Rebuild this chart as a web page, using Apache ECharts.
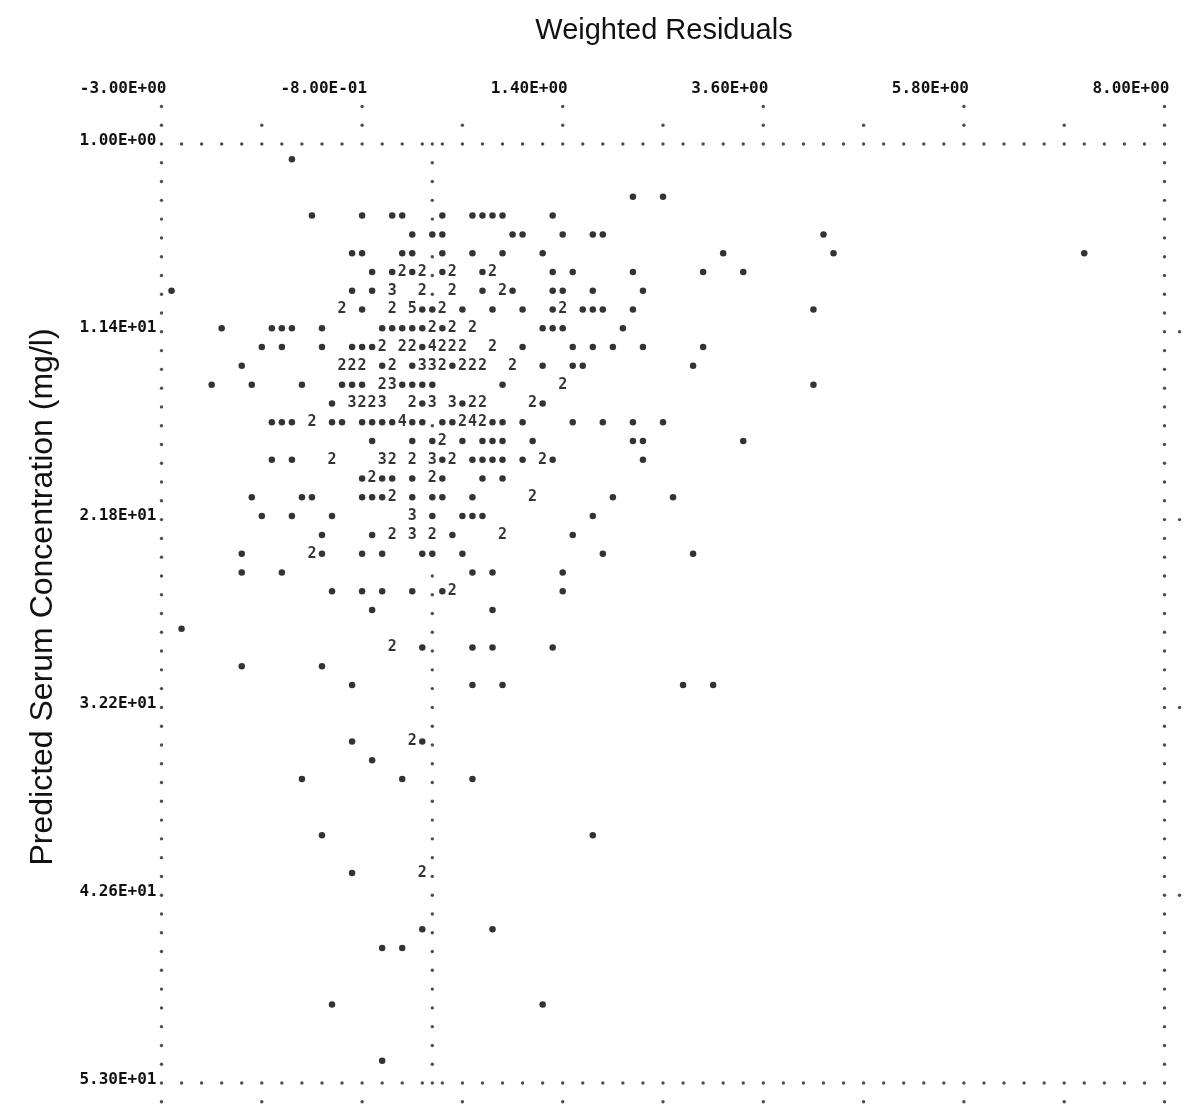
<!DOCTYPE html>
<html>
<head>
<meta charset="utf-8">
<script src="https://cdn.jsdelivr.net/npm/echarts@6/dist/echarts.min.js"></script>
<style>
  html, body { margin: 0; padding: 0; background: #fff; }
  #chart { width: 1185px; height: 1111px; }
</style>
</head>
<body>
<div id="chart"></div>
<script>
// Line-printer residual plot: 100 print columns across, 50 print lines down
const xMin = -3, xMax = 8, xStep = 0.11;
const yMin = 1, yMax = 53, yStep = 1.04;
const xTicks = [-3, -0.8, 1.4, 3.6, 5.8, 8];
const yTicks = [1, 11.4, 21.8, 32.2, 42.6, 53];

// single observations: [weighted residual, predicted serum concentration]
const singles = [
  [-1.57, 2.04],
  [2.17, 4.12], [2.50, 4.12],
  [-1.35, 5.16], [-0.80, 5.16], [-0.47, 5.16], [-0.36, 5.16], [0.08, 5.16], [0.41, 5.16], [0.52, 5.16], [0.63, 5.16], [0.74, 5.16], [1.29, 5.16],
  [-0.25, 6.20], [-0.03, 6.20], [0.08, 6.20], [0.85, 6.20], [0.96, 6.20], [1.40, 6.20], [1.73, 6.20], [1.84, 6.20], [4.26, 6.20],
  [-0.91, 7.24], [-0.80, 7.24], [-0.36, 7.24], [-0.25, 7.24], [0.08, 7.24], [0.41, 7.24], [0.74, 7.24], [1.18, 7.24], [3.16, 7.24], [4.37, 7.24], [7.12, 7.24],
  [-0.69, 8.28], [-0.47, 8.28], [-0.25, 8.28], [0.08, 8.28], [0.52, 8.28], [1.29, 8.28], [1.51, 8.28], [2.17, 8.28], [2.94, 8.28], [3.38, 8.28],
  [-2.89, 9.32], [-0.91, 9.32], [-0.69, 9.32], [0.52, 9.32], [0.85, 9.32], [1.29, 9.32], [1.40, 9.32], [1.73, 9.32], [2.28, 9.32],
  [-0.80, 10.36], [-0.14, 10.36], [-0.03, 10.36], [0.30, 10.36], [0.63, 10.36], [0.96, 10.36], [1.29, 10.36], [1.62, 10.36], [1.73, 10.36], [1.84, 10.36], [2.17, 10.36], [4.15, 10.36],
  [-2.34, 11.40], [-1.79, 11.40], [-1.68, 11.40], [-1.57, 11.40], [-1.24, 11.40], [-0.58, 11.40], [-0.47, 11.40], [-0.36, 11.40], [-0.25, 11.40], [-0.14, 11.40], [0.08, 11.40], [1.18, 11.40], [1.29, 11.40], [1.40, 11.40], [2.06, 11.40],
  [-1.90, 12.44], [-1.68, 12.44], [-1.24, 12.44], [-0.91, 12.44], [-0.80, 12.44], [-0.69, 12.44], [-0.14, 12.44], [0.96, 12.44], [1.51, 12.44], [1.73, 12.44], [1.95, 12.44], [2.28, 12.44], [2.94, 12.44],
  [-2.12, 13.48], [-0.58, 13.48], [-0.25, 13.48], [0.19, 13.48], [1.18, 13.48], [1.51, 13.48], [1.62, 13.48], [2.83, 13.48],
  [-2.45, 14.52], [-2.01, 14.52], [-1.46, 14.52], [-1.02, 14.52], [-0.91, 14.52], [-0.80, 14.52], [-0.36, 14.52], [-0.25, 14.52], [-0.14, 14.52], [-0.03, 14.52], [0.74, 14.52], [4.15, 14.52],
  [-1.13, 15.56], [-0.14, 15.56], [0.30, 15.56], [1.18, 15.56],
  [-1.79, 16.60], [-1.68, 16.60], [-1.57, 16.60], [-1.13, 16.60], [-1.02, 16.60], [-0.80, 16.60], [-0.69, 16.60], [-0.58, 16.60], [-0.47, 16.60], [-0.25, 16.60], [-0.14, 16.60], [0.08, 16.60], [0.19, 16.60], [0.63, 16.60], [0.74, 16.60], [0.96, 16.60], [1.51, 16.60], [1.84, 16.60], [2.17, 16.60], [2.50, 16.60],
  [-0.69, 17.64], [-0.25, 17.64], [-0.03, 17.64], [0.30, 17.64], [0.52, 17.64], [0.63, 17.64], [0.74, 17.64], [1.07, 17.64], [2.17, 17.64], [2.28, 17.64], [3.38, 17.64],
  [-1.79, 18.68], [-1.57, 18.68], [0.08, 18.68], [0.41, 18.68], [0.52, 18.68], [0.63, 18.68], [0.74, 18.68], [0.96, 18.68], [1.29, 18.68], [2.28, 18.68],
  [-0.80, 19.72], [-0.58, 19.72], [-0.47, 19.72], [-0.25, 19.72], [0.08, 19.72], [0.52, 19.72], [0.74, 19.72],
  [-2.01, 20.76], [-1.46, 20.76], [-1.35, 20.76], [-0.80, 20.76], [-0.69, 20.76], [-0.58, 20.76], [-0.25, 20.76], [-0.03, 20.76], [0.08, 20.76], [0.41, 20.76], [1.95, 20.76], [2.61, 20.76],
  [-1.90, 21.80], [-1.57, 21.80], [-1.13, 21.80], [-0.03, 21.80], [0.30, 21.80], [0.41, 21.80], [0.52, 21.80], [1.73, 21.80],
  [-1.24, 22.84], [-0.69, 22.84], [0.19, 22.84], [1.51, 22.84],
  [-2.12, 23.88], [-1.24, 23.88], [-0.80, 23.88], [-0.58, 23.88], [-0.14, 23.88], [-0.03, 23.88], [0.30, 23.88], [1.84, 23.88], [2.83, 23.88],
  [-2.12, 24.92], [-1.68, 24.92], [0.41, 24.92], [0.63, 24.92], [1.40, 24.92],
  [-1.13, 25.96], [-0.80, 25.96], [-0.58, 25.96], [-0.25, 25.96], [0.08, 25.96], [1.40, 25.96],
  [-0.69, 27.00], [0.63, 27.00],
  [-2.78, 28.04],
  [-0.14, 29.08], [0.41, 29.08], [0.63, 29.08], [1.29, 29.08],
  [-2.12, 30.12], [-1.24, 30.12],
  [-0.91, 31.16], [0.41, 31.16], [0.74, 31.16], [2.72, 31.16], [3.05, 31.16],
  [-0.91, 34.28], [-0.14, 34.28],
  [-0.69, 35.32],
  [-1.46, 36.36], [-0.36, 36.36], [0.41, 36.36],
  [-1.24, 39.48], [1.73, 39.48],
  [-0.91, 41.56],
  [-0.14, 44.68], [0.63, 44.68],
  [-0.58, 45.72], [-0.36, 45.72],
  [-1.13, 48.84], [1.18, 48.84],
  [-0.58, 51.96]
];

// print cells holding several observations: [weighted residual, predicted concentration, count]
const multiples = [
  [-0.36, 8.28, 2], [-0.14, 8.28, 2], [0.19, 8.28, 2], [0.63, 8.28, 2],
  [-0.47, 9.32, 3], [-0.14, 9.32, 2], [0.19, 9.32, 2], [0.74, 9.32, 2],
  [-1.02, 10.36, 2], [-0.47, 10.36, 2], [-0.25, 10.36, 5], [0.08, 10.36, 2], [1.40, 10.36, 2],
  [-0.03, 11.40, 2], [0.19, 11.40, 2], [0.41, 11.40, 2],
  [-0.58, 12.44, 2], [-0.36, 12.44, 2], [-0.25, 12.44, 2], [-0.03, 12.44, 4], [0.08, 12.44, 2], [0.19, 12.44, 2], [0.30, 12.44, 2], [0.63, 12.44, 2],
  [-1.02, 13.48, 2], [-0.91, 13.48, 2], [-0.80, 13.48, 2], [-0.47, 13.48, 2], [-0.14, 13.48, 3], [-0.03, 13.48, 3], [0.08, 13.48, 2], [0.30, 13.48, 2], [0.41, 13.48, 2], [0.52, 13.48, 2], [0.85, 13.48, 2],
  [-0.58, 14.52, 2], [-0.47, 14.52, 3], [1.40, 14.52, 2],
  [-0.91, 15.56, 3], [-0.80, 15.56, 2], [-0.69, 15.56, 2], [-0.58, 15.56, 3], [-0.25, 15.56, 2], [-0.03, 15.56, 3], [0.19, 15.56, 3], [0.41, 15.56, 2], [0.52, 15.56, 2], [1.07, 15.56, 2],
  [-1.35, 16.60, 2], [-0.36, 16.60, 4], [0.30, 16.60, 2], [0.41, 16.60, 4], [0.52, 16.60, 2],
  [0.08, 17.64, 2],
  [-1.13, 18.68, 2], [-0.58, 18.68, 3], [-0.47, 18.68, 2], [-0.25, 18.68, 2], [-0.03, 18.68, 3], [0.19, 18.68, 2], [1.18, 18.68, 2],
  [-0.69, 19.72, 2], [-0.03, 19.72, 2],
  [-0.47, 20.76, 2], [1.07, 20.76, 2],
  [-0.25, 21.80, 3],
  [-0.47, 22.84, 2], [-0.25, 22.84, 3], [-0.03, 22.84, 2], [0.74, 22.84, 2],
  [-1.35, 23.88, 2],
  [0.19, 25.96, 2],
  [-0.47, 29.08, 2],
  [-0.25, 34.28, 2],
  [-0.14, 41.56, 2]
];

// printer-style number: -8.00E-01
const fmtE = v => {
  const [m, e] = Number(v).toExponential(2).split('e');
  const n = parseInt(e, 10);
  return m + 'E' + (n < 0 ? '-' : '+') + String(Math.abs(n)).padStart(2, '0');
};

// frame of printed periods: borders, the zero-residual column and tick marks
const nCols = Math.round((xMax - xMin) / xStep);
const nRows = Math.round((yMax - yMin) / yStep);
const zeroCol = Math.round((0 - xMin) / xStep);
const cellX = c => +(xMin + c * xStep).toFixed(4);
const cellY = r => +(yMin + r * yStep).toFixed(4);
const allPts = singles.concat(multiples);
const zeroTaken = r => allPts.some(p => Math.abs(p[0] - cellX(zeroCol)) < 0.01 && Math.abs(p[1] - cellY(r)) < 0.01);
const frame = [];
for (let c = 0; c <= nCols; c += 2) { frame.push([cellX(c), cellY(0)], [cellX(c), cellY(nRows)]); }
frame.push([cellX(zeroCol), cellY(0)], [cellX(zeroCol), cellY(nRows)]);
for (let r = 1; r < nRows; r++) {
  frame.push([cellX(0), cellY(r)], [cellX(nCols), cellY(r)]);
  if (!zeroTaken(r)) frame.push([cellX(zeroCol), cellY(r)]);
}
for (let c = 0; c <= nCols; c += 10) {
  frame.push([cellX(c), cellY(-1)], [cellX(c), cellY(nRows + 1)]);
  if (c % 20 === 0) frame.push([cellX(c), cellY(-2)]);
}
// right-hand tick marks beside the labelled lines
for (let r = 10; r < nRows; r += 10) frame.push([cellX(nCols + 1.5), cellY(r)]);

const mono = 'DejaVu Sans Mono';
const chart = echarts.init(document.getElementById('chart'), null, { renderer: 'canvas' });
chart.setOption({
  animation: false,
  backgroundColor: '#fff',
  title: {
    text: 'Weighted Residuals',
    left: 659, top: 11, textAlign: 'center',
    textStyle: { fontFamily: 'Liberation Sans', fontSize: 29, fontWeight: 'normal', color: '#111' }
  },
  grid: { left: 161.5, top: 140.5, width: 1003, height: 939, containLabel: false, outerBoundsMode: 'none' },
  xAxis: {
    type: 'value', position: 'top', min: xMin, max: xMax,
    axisLine: { show: false }, axisTick: { show: false }, splitLine: { show: false },
    axisLabel: {
      customValues: xTicks, formatter: fmtE, margin: 52,
      align: 'right', verticalAlign: 'middle', padding: [0, -5, 0, 0],
      fontFamily: mono, fontWeight: 'bold', fontSize: 16, color: '#111'
    }
  },
  yAxis: {
    type: 'value', inverse: true, min: yMin, max: yMax,
    name: 'Predicted Serum Concentration (mg/l)', nameLocation: 'middle', nameRotate: 90, nameGap: 102,
    nameTextStyle: { fontFamily: 'Liberation Sans', fontSize: 32, color: '#111', padding: [0, 0, 0, 26] },
    axisLine: { show: false }, axisTick: { show: false }, splitLine: { show: false },
    axisLabel: {
      customValues: yTicks, formatter: fmtE, margin: 5,
      fontFamily: mono, fontWeight: 'bold', fontSize: 16, color: '#111'
    }
  },
  series: [
    {
      name: 'frame', type: 'scatter', data: frame, clip: false, silent: true,
      symbol: 'circle', symbolSize: 3.4, symbolOffset: [0, 3.5],
      itemStyle: { color: '#222' }
    },
    {
      name: 'single', type: 'scatter', data: singles, clip: false,
      symbol: 'circle', symbolSize: 6.5, itemStyle: { color: '#000' }
    },
    {
      name: 'multiple', type: 'scatter', data: multiples, clip: false,
      symbol: 'circle', symbolSize: 1, itemStyle: { color: 'rgba(0,0,0,0)' },
      label: {
        show: true, position: 'inside', formatter: p => String(p.data[2]),
        fontFamily: mono, fontWeight: 'bold', fontSize: 15, color: '#000'
      }
    }
  ]
});
</script>
</body>
</html>
